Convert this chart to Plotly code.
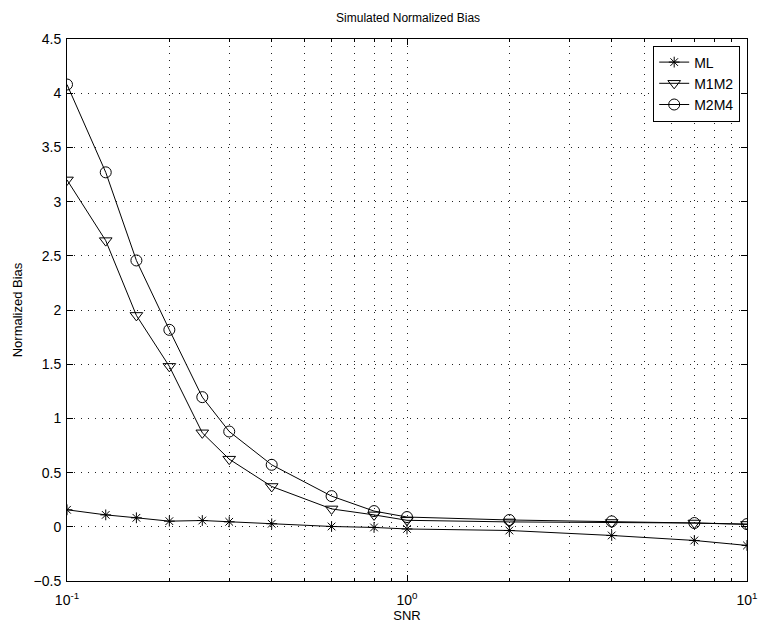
import plotly.graph_objects as go

# SNR sample points (log-spaced axis)
snr = [0.1, 0.13, 0.16, 0.2, 0.25, 0.3, 0.4, 0.6, 0.8, 1, 2, 4, 7, 10]

# Normalized bias for each estimator
bias_ml = [0.157, 0.11, 0.083, 0.052, 0.058, 0.046, 0.028, 0.003, -0.006,
           -0.02, -0.034, -0.08, -0.126, -0.172]
bias_m1m2 = [3.20, 2.64, 1.95, 1.48, 0.867, 0.624, 0.372, 0.165, 0.11,
             0.06, 0.045, 0.04, 0.035, 0.022]
bias_m2m4 = [4.08, 3.27, 2.457, 1.817, 1.196, 0.879, 0.572, 0.283, 0.145,
             0.09, 0.063, 0.05, 0.035, 0.025]

x_ticks = [0.1, 1, 10]
x_tick_text = ["10<sup>-1</sup>", "10<sup>0</sup>", "10<sup>1</sup>"]
y_ticks = [-0.5, 0, 0.5, 1, 1.5, 2, 2.5, 3, 3.5, 4, 4.5]
y_tick_text = ["\u22120.5", "0", "0.5", "1", "1.5", "2", "2.5", "3", "3.5", "4", "4.5"]

FONT = "Liberation Sans, Arial, Helvetica, sans-serif"
GRID_DASH = "1px,6px"

fig = go.Figure()
series = [
    ("ML", bias_ml, "asterisk-open", 9),
    ("M1M2", bias_m1m2, "triangle-down-open", 11),
    ("M2M4", bias_m2m4, "circle-open", 11),
]
for name, vals, sym, size in series:
    fig.add_trace(go.Scatter(
        x=snr, y=vals, name=name, mode="lines+markers",
        line=dict(color="black", width=1),
        marker=dict(symbol=sym, size=size, color="black",
                    line=dict(color="black", width=1)),
    ))

axis_common = dict(
    showline=True, linecolor="black", linewidth=1, mirror="ticks",
    ticks="inside", ticklen=6, tickcolor="black",
    showgrid=True, gridcolor="#222222", gridwidth=1.3, griddash=GRID_DASH,
    zeroline=False, tickfont=dict(family=FONT, size=14, color="black"),
)

fig.update_xaxes(
    type="log", range=[-1, 1], tickvals=x_ticks, ticktext=x_tick_text,
    ticklabelstandoff=6,
    title=dict(text="SNR", font=dict(family=FONT, size=13, color="black"),
               standoff=0),
    minor=dict(dtick="D1", showgrid=True, gridcolor="#222222",
               griddash=GRID_DASH, gridwidth=1.3,
               ticks="inside", ticklen=3, tickcolor="black"),
    **axis_common,
)
fig.update_yaxes(
    range=[-0.5, 4.5], tickvals=y_ticks, ticktext=y_tick_text,
    ticklabelstandoff=2,
    title=dict(text="Normalized Bias",
               font=dict(family=FONT, size=13, color="black"), standoff=8),
    **axis_common,
)

fig.update_layout(
    width=770, height=631,
    margin=dict(l=67, r=13, t=39, b=50),
    paper_bgcolor="white", plot_bgcolor="white",
    title=dict(text="Simulated Normalized Bias", x=0.53, xanchor="center",
               y=0.972, yanchor="middle",
               font=dict(family=FONT, size=12, color="black")),
    legend=dict(x=0.99, y=0.988, xanchor="right", yanchor="top",
                bgcolor="white", bordercolor="black", borderwidth=1,
                font=dict(family=FONT, size=14, color="black"),
                tracegroupgap=0, itemwidth=30),
    showlegend=True,
)

fig.write_html("out.html")
